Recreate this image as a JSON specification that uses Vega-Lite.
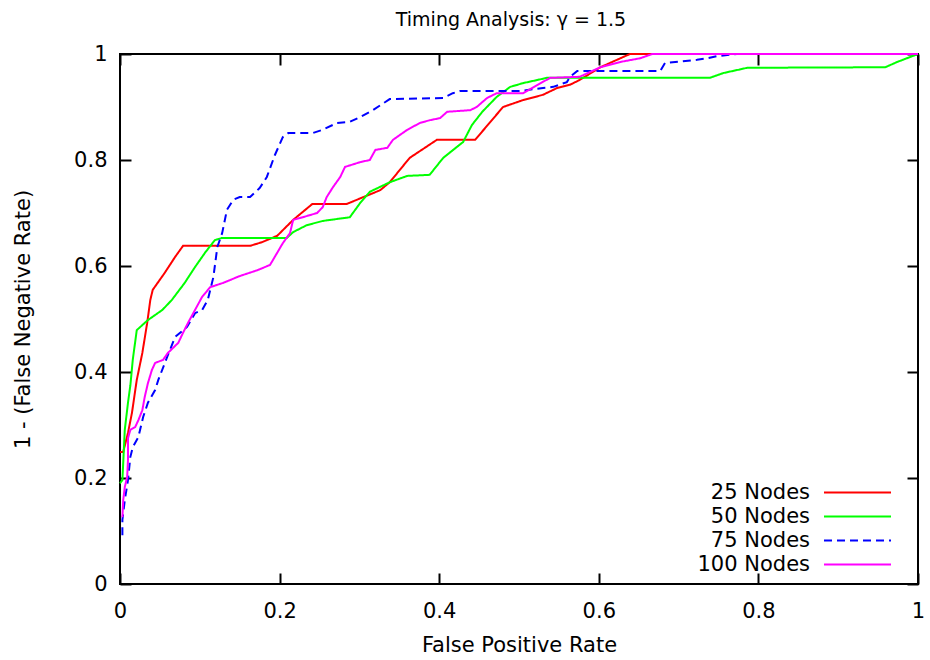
{
"$schema": "https://vega.github.io/schema/vega-lite/v6.json",
"width": 798, "height": 530,
"autosize": {"type": "none"},
"padding": {"left": 120, "top": 54, "right": 12, "bottom": 76},
"background": "white",
"title": {"text": "Timing Analysis: γ = 1.5", "fontSize": 19, "font": "DejaVu Sans", "fontWeight": "normal", "offset": 13, "color": "black", "anchor": "middle", "dx": -8},
"config": {
  "view": {"stroke": "black", "strokeWidth": 2},
  "axis": {"grid": false, "domain": false, "tickColor": "black", "tickWidth": 2, "tickSize": -11, "labelFont": "DejaVu Sans", "labelFontSize": 21, "labelColor": "black", "titleFont": "DejaVu Sans", "titleFontSize": 21, "titleFontWeight": "normal", "titleColor": "black", "labelFlush": false, "labelOverlap": false}
},
"data": {"values": [
{"s":"25 Nodes","i":0,"x":0,"y":0.249},{"s":"25 Nodes","i":1,"x":0.004,"y":0.249},{"s":"25 Nodes","i":2,"x":0.010,"y":0.285},{"s":"25 Nodes","i":3,"x":0.015,"y":0.323},{"s":"25 Nodes","i":4,"x":0.021,"y":0.385},{"s":"25 Nodes","i":5,"x":0.028,"y":0.436},{"s":"25 Nodes","i":6,"x":0.034,"y":0.492},{"s":"25 Nodes","i":7,"x":0.038,"y":0.536},{"s":"25 Nodes","i":8,"x":0.041,"y":0.555},{"s":"25 Nodes","i":9,"x":0.056,"y":0.587},{"s":"25 Nodes","i":10,"x":0.069,"y":0.617},{"s":"25 Nodes","i":11,"x":0.079,"y":0.638},{"s":"25 Nodes","i":12,"x":0.163,"y":0.638},{"s":"25 Nodes","i":13,"x":0.178,"y":0.645},{"s":"25 Nodes","i":14,"x":0.197,"y":0.657},{"s":"25 Nodes","i":15,"x":0.217,"y":0.687},{"s":"25 Nodes","i":16,"x":0.241,"y":0.717},{"s":"25 Nodes","i":17,"x":0.284,"y":0.717},{"s":"25 Nodes","i":18,"x":0.305,"y":0.730},{"s":"25 Nodes","i":19,"x":0.326,"y":0.743},{"s":"25 Nodes","i":20,"x":0.338,"y":0.758},{"s":"25 Nodes","i":21,"x":0.363,"y":0.804},{"s":"25 Nodes","i":22,"x":0.397,"y":0.838},{"s":"25 Nodes","i":23,"x":0.445,"y":0.838},{"s":"25 Nodes","i":24,"x":0.480,"y":0.900},{"s":"25 Nodes","i":25,"x":0.505,"y":0.913},{"s":"25 Nodes","i":26,"x":0.530,"y":0.923},{"s":"25 Nodes","i":27,"x":0.548,"y":0.936},{"s":"25 Nodes","i":28,"x":0.564,"y":0.942},{"s":"25 Nodes","i":29,"x":0.576,"y":0.951},{"s":"25 Nodes","i":30,"x":0.602,"y":0.975},{"s":"25 Nodes","i":31,"x":0.639,"y":1.0},{"s":"25 Nodes","i":32,"x":1,"y":1},
{"s":"50 Nodes","i":0,"x":0,"y":0.19},{"s":"50 Nodes","i":1,"x":0.003,"y":0.196},{"s":"50 Nodes","i":2,"x":0.006,"y":0.291},{"s":"50 Nodes","i":3,"x":0.010,"y":0.342},{"s":"50 Nodes","i":4,"x":0.013,"y":0.375},{"s":"50 Nodes","i":5,"x":0.016,"y":0.423},{"s":"50 Nodes","i":6,"x":0.021,"y":0.479},{"s":"50 Nodes","i":7,"x":0.035,"y":0.498},{"s":"50 Nodes","i":8,"x":0.053,"y":0.517},{"s":"50 Nodes","i":9,"x":0.065,"y":0.536},{"s":"50 Nodes","i":10,"x":0.081,"y":0.568},{"s":"50 Nodes","i":11,"x":0.094,"y":0.598},{"s":"50 Nodes","i":12,"x":0.107,"y":0.626},{"s":"50 Nodes","i":13,"x":0.119,"y":0.649},{"s":"50 Nodes","i":14,"x":0.128,"y":0.653},{"s":"50 Nodes","i":15,"x":0.209,"y":0.653},{"s":"50 Nodes","i":16,"x":0.217,"y":0.664},{"s":"50 Nodes","i":17,"x":0.234,"y":0.677},{"s":"50 Nodes","i":18,"x":0.254,"y":0.685},{"s":"50 Nodes","i":19,"x":0.288,"y":0.692},{"s":"50 Nodes","i":20,"x":0.301,"y":0.719},{"s":"50 Nodes","i":21,"x":0.313,"y":0.740},{"s":"50 Nodes","i":22,"x":0.338,"y":0.758},{"s":"50 Nodes","i":23,"x":0.360,"y":0.770},{"s":"50 Nodes","i":24,"x":0.388,"y":0.772},{"s":"50 Nodes","i":25,"x":0.405,"y":0.804},{"s":"50 Nodes","i":26,"x":0.430,"y":0.834},{"s":"50 Nodes","i":27,"x":0.441,"y":0.866},{"s":"50 Nodes","i":28,"x":0.454,"y":0.891},{"s":"50 Nodes","i":29,"x":0.472,"y":0.919},{"s":"50 Nodes","i":30,"x":0.489,"y":0.938},{"s":"50 Nodes","i":31,"x":0.505,"y":0.945},{"s":"50 Nodes","i":32,"x":0.523,"y":0.951},{"s":"50 Nodes","i":33,"x":0.535,"y":0.955},{"s":"50 Nodes","i":34,"x":0.739,"y":0.955},{"s":"50 Nodes","i":35,"x":0.756,"y":0.964},{"s":"50 Nodes","i":36,"x":0.786,"y":0.974},{"s":"50 Nodes","i":37,"x":0.959,"y":0.975},{"s":"50 Nodes","i":38,"x":0.974,"y":0.985},{"s":"50 Nodes","i":39,"x":1,"y":1},
{"s":"75 Nodes","i":0,"x":0.003,"y":0.092},{"s":"75 Nodes","i":1,"x":0.003,"y":0.121},{"s":"75 Nodes","i":2,"x":0.006,"y":0.158},{"s":"75 Nodes","i":3,"x":0.010,"y":0.196},{"s":"75 Nodes","i":4,"x":0.013,"y":0.240},{"s":"75 Nodes","i":5,"x":0.016,"y":0.258},{"s":"75 Nodes","i":6,"x":0.023,"y":0.277},{"s":"75 Nodes","i":7,"x":0.029,"y":0.315},{"s":"75 Nodes","i":8,"x":0.035,"y":0.342},{"s":"75 Nodes","i":9,"x":0.044,"y":0.366},{"s":"75 Nodes","i":10,"x":0.048,"y":0.385},{"s":"75 Nodes","i":11,"x":0.059,"y":0.428},{"s":"75 Nodes","i":12,"x":0.069,"y":0.466},{"s":"75 Nodes","i":13,"x":0.084,"y":0.485},{"s":"75 Nodes","i":14,"x":0.094,"y":0.511},{"s":"75 Nodes","i":15,"x":0.103,"y":0.517},{"s":"75 Nodes","i":16,"x":0.110,"y":0.536},{"s":"75 Nodes","i":17,"x":0.117,"y":0.579},{"s":"75 Nodes","i":18,"x":0.122,"y":0.636},{"s":"75 Nodes","i":19,"x":0.128,"y":0.662},{"s":"75 Nodes","i":20,"x":0.134,"y":0.706},{"s":"75 Nodes","i":21,"x":0.142,"y":0.725},{"s":"75 Nodes","i":22,"x":0.150,"y":0.730},{"s":"75 Nodes","i":23,"x":0.163,"y":0.730},{"s":"75 Nodes","i":24,"x":0.175,"y":0.747},{"s":"75 Nodes","i":25,"x":0.184,"y":0.768},{"s":"75 Nodes","i":26,"x":0.194,"y":0.809},{"s":"75 Nodes","i":27,"x":0.204,"y":0.843},{"s":"75 Nodes","i":28,"x":0.211,"y":0.851},{"s":"75 Nodes","i":29,"x":0.242,"y":0.851},{"s":"75 Nodes","i":30,"x":0.254,"y":0.857},{"s":"75 Nodes","i":31,"x":0.272,"y":0.870},{"s":"75 Nodes","i":32,"x":0.288,"y":0.872},{"s":"75 Nodes","i":33,"x":0.301,"y":0.881},{"s":"75 Nodes","i":34,"x":0.317,"y":0.894},{"s":"75 Nodes","i":35,"x":0.332,"y":0.909},{"s":"75 Nodes","i":36,"x":0.338,"y":0.915},{"s":"75 Nodes","i":37,"x":0.405,"y":0.917},{"s":"75 Nodes","i":38,"x":0.417,"y":0.926},{"s":"75 Nodes","i":39,"x":0.426,"y":0.930},{"s":"75 Nodes","i":40,"x":0.501,"y":0.930},{"s":"75 Nodes","i":41,"x":0.530,"y":0.936},{"s":"75 Nodes","i":42,"x":0.543,"y":0.938},{"s":"75 Nodes","i":43,"x":0.560,"y":0.947},{"s":"75 Nodes","i":44,"x":0.564,"y":0.957},{"s":"75 Nodes","i":45,"x":0.573,"y":0.968},{"s":"75 Nodes","i":46,"x":0.677,"y":0.968},{"s":"75 Nodes","i":47,"x":0.683,"y":0.983},{"s":"75 Nodes","i":48,"x":0.723,"y":0.989},{"s":"75 Nodes","i":49,"x":0.736,"y":0.992},{"s":"75 Nodes","i":50,"x":0.748,"y":0.996},{"s":"75 Nodes","i":51,"x":0.773,"y":1.0},{"s":"75 Nodes","i":52,"x":1,"y":1},
{"s":"100 Nodes","i":0,"x":0.003,"y":0.126},{"s":"100 Nodes","i":1,"x":0.004,"y":0.158},{"s":"100 Nodes","i":2,"x":0.006,"y":0.183},{"s":"100 Nodes","i":3,"x":0.009,"y":0.202},{"s":"100 Nodes","i":4,"x":0.010,"y":0.234},{"s":"100 Nodes","i":5,"x":0.010,"y":0.275},{"s":"100 Nodes","i":6,"x":0.013,"y":0.291},{"s":"100 Nodes","i":7,"x":0.019,"y":0.296},{"s":"100 Nodes","i":8,"x":0.023,"y":0.309},{"s":"100 Nodes","i":9,"x":0.028,"y":0.328},{"s":"100 Nodes","i":10,"x":0.031,"y":0.353},{"s":"100 Nodes","i":11,"x":0.035,"y":0.379},{"s":"100 Nodes","i":12,"x":0.040,"y":0.404},{"s":"100 Nodes","i":13,"x":0.044,"y":0.417},{"s":"100 Nodes","i":14,"x":0.054,"y":0.423},{"s":"100 Nodes","i":15,"x":0.060,"y":0.436},{"s":"100 Nodes","i":16,"x":0.073,"y":0.455},{"s":"100 Nodes","i":17,"x":0.079,"y":0.474},{"s":"100 Nodes","i":18,"x":0.085,"y":0.492},{"s":"100 Nodes","i":19,"x":0.094,"y":0.517},{"s":"100 Nodes","i":20,"x":0.103,"y":0.542},{"s":"100 Nodes","i":21,"x":0.113,"y":0.560},{"s":"100 Nodes","i":22,"x":0.129,"y":0.568},{"s":"100 Nodes","i":23,"x":0.150,"y":0.581},{"s":"100 Nodes","i":24,"x":0.172,"y":0.592},{"s":"100 Nodes","i":25,"x":0.188,"y":0.602},{"s":"100 Nodes","i":26,"x":0.197,"y":0.625},{"s":"100 Nodes","i":27,"x":0.204,"y":0.643},{"s":"100 Nodes","i":28,"x":0.213,"y":0.662},{"s":"100 Nodes","i":29,"x":0.217,"y":0.687},{"s":"100 Nodes","i":30,"x":0.229,"y":0.692},{"s":"100 Nodes","i":31,"x":0.247,"y":0.700},{"s":"100 Nodes","i":32,"x":0.254,"y":0.711},{"s":"100 Nodes","i":33,"x":0.259,"y":0.730},{"s":"100 Nodes","i":34,"x":0.267,"y":0.749},{"s":"100 Nodes","i":35,"x":0.276,"y":0.768},{"s":"100 Nodes","i":36,"x":0.282,"y":0.787},{"s":"100 Nodes","i":37,"x":0.301,"y":0.796},{"s":"100 Nodes","i":38,"x":0.313,"y":0.800},{"s":"100 Nodes","i":39,"x":0.320,"y":0.819},{"s":"100 Nodes","i":40,"x":0.335,"y":0.823},{"s":"100 Nodes","i":41,"x":0.342,"y":0.838},{"s":"100 Nodes","i":42,"x":0.360,"y":0.857},{"s":"100 Nodes","i":43,"x":0.376,"y":0.870},{"s":"100 Nodes","i":44,"x":0.388,"y":0.875},{"s":"100 Nodes","i":45,"x":0.401,"y":0.879},{"s":"100 Nodes","i":46,"x":0.410,"y":0.891},{"s":"100 Nodes","i":47,"x":0.439,"y":0.894},{"s":"100 Nodes","i":48,"x":0.447,"y":0.900},{"s":"100 Nodes","i":49,"x":0.460,"y":0.917},{"s":"100 Nodes","i":50,"x":0.472,"y":0.926},{"s":"100 Nodes","i":51,"x":0.505,"y":0.926},{"s":"100 Nodes","i":52,"x":0.539,"y":0.955},{"s":"100 Nodes","i":53,"x":0.576,"y":0.957},{"s":"100 Nodes","i":54,"x":0.602,"y":0.975},{"s":"100 Nodes","i":55,"x":0.627,"y":0.985},{"s":"100 Nodes","i":56,"x":0.652,"y":0.992},{"s":"100 Nodes","i":57,"x":0.667,"y":1.0},{"s":"100 Nodes","i":58,"x":1,"y":1}
]},
"layer": [
  {
    "mark": {"type": "line", "strokeWidth": 2},
    "encoding": {
      "x": {"field": "x", "type": "quantitative", "scale": {"domain": [0, 1], "nice": false, "zero": false},
            "axis": {"orient": "bottom", "values": [0, 0.2, 0.4, 0.6, 0.8, 1], "format": "~g", "title": "False Positive Rate", "labelPadding": 27, "titlePadding": 13}},
      "y": {"field": "y", "type": "quantitative", "scale": {"domain": [0, 1], "nice": false, "zero": false},
            "axis": {"orient": "left", "values": [0, 0.2, 0.4, 0.6, 0.8, 1], "format": "~g", "title": "1 - (False Negative Rate)", "labelPadding": 24, "titlePadding": 40}},
      "color": {"field": "s", "type": "nominal",
                "scale": {"domain": ["25 Nodes", "50 Nodes", "75 Nodes", "100 Nodes"], "range": ["#ff0000", "#00ff00", "#0000ff", "#ff00ff"]},
                "legend": {"title": null, "orient": "none", "legendX": 725, "legendY": 426, "symbolType": "M-3,0H3", "symbolSize": 499, "symbolStrokeWidth": 2, "labelAlign": "right", "labelOffset": -60, "labelFont": "DejaVu Sans", "labelFontSize": 21, "labelColor": "black", "rowPadding": 1, "padding": 0, "labelLimit": 300}},
      "strokeDash": {"field": "s", "type": "nominal",
                "scale": {"domain": ["25 Nodes", "50 Nodes", "75 Nodes", "100 Nodes"], "range": [[1, 0], [1, 0], [8, 5], [1, 0]]},
                "legend": {"title": null, "orient": "none", "legendX": 725, "legendY": 426, "symbolType": "M-3,0H3", "symbolSize": 499, "symbolStrokeWidth": 2, "labelAlign": "right", "labelOffset": -60, "labelFont": "DejaVu Sans", "labelFontSize": 21, "labelColor": "black", "rowPadding": 1, "padding": 0, "labelLimit": 300}},
      "order": {"field": "i", "type": "quantitative"}
    }
  },
  {
    "mark": {"type": "point", "opacity": 0},
    "encoding": {
      "x": {"field": "x", "type": "quantitative", "axis": {"orient": "top", "values": [0, 0.2, 0.4, 0.6, 0.8, 1], "labels": false, "title": null}},
      "y": {"field": "y", "type": "quantitative", "axis": {"orient": "right", "values": [0, 0.2, 0.4, 0.6, 0.8, 1], "labels": false, "title": null}}
    }
  }
],
"resolve": {"axis": {"x": "independent", "y": "independent"}}
}
